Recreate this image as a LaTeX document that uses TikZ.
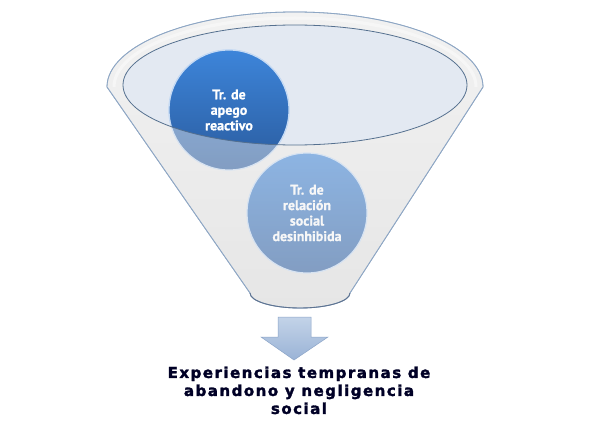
\documentclass[tikz,border=0pt]{standalone}
\usepackage{fontspec}
\newfontfamily\circfont{PT Sans}[UprightFont={* Bold}, FakeBold=0.8]
\newfontfamily\bottomfont{DejaVu Sans}[UprightFont={* Bold}, LetterSpace=10, FakeBold=2]
\definecolor{rim}{HTML}{8DA6C4}
\definecolor{rimdark}{HTML}{5F7390}
\definecolor{funnelfill}{HTML}{EEEEEE}
\definecolor{ellfill}{HTML}{E3E9F2}
\definecolor{elldraw}{HTML}{55708F}
\definecolor{blueA}{HTML}{3D85DA}
\definecolor{blueB}{HTML}{2A5B9E}
\definecolor{arrowA}{HTML}{C3D3E8}
\definecolor{arrowB}{HTML}{9AB3D6}
\definecolor{arrowdraw}{HTML}{8CA5C8}
\tikzset{
  bubble/.style={circle, minimum size=120pt, inner sep=0pt, align=center,
    text=white, font=\circfont\fontsize{14}{15.5}\selectfont,
    draw=white!70!blueA, line width=1.2pt, shading=axis,
    top color=blueA, bottom color=blueB},
  bottomtext/.style={align=center, text=black!85!blue,
    font=\bottomfont\fontsize{15}{18}\selectfont},
}
\begin{document}
\begin{tikzpicture}[x=1pt,y=-1pt]
\useasboundingbox (0,0) rectangle (589,441);
\fill[white] (0,0) rectangle (589,441);
% funnel body
\path[top color=funnelfill!60!white, bottom color=funnelfill!90!black!60!funnelfill, draw=rim, line width=0.8pt]
  (107,87) arc[start angle=180, end angle=360, x radius=188, y radius=75]
  -- (350,293) arc[start angle=0, end angle=180, x radius=50, y radius=15] -- cycle;
% inner white rim
\draw[white, line width=3pt, opacity=0.9]
  (114,87) arc[start angle=180, end angle=360, x radius=181, y radius=69];
% inner ellipse
\fill[ellfill] (295,85) ellipse[x radius=172, y radius=60];
% circles
\node[bubble] (c1) at (229,110) {Tr. de\\apego\\reactivo};
\node[bubble] (c2) at (307,213) {Tr. de\\relación\\social\\desinhibida};
% front overlay (funnel minus inner ellipse)
\fill[even odd rule, fill=funnelfill!95!white, opacity=0.45]
  (107,87) arc[start angle=180, end angle=360, x radius=188, y radius=75]
  -- (350,293) arc[start angle=0, end angle=180, x radius=50, y radius=15] -- cycle
  (295,85) ellipse[x radius=172, y radius=60];
% redraw circle 1 top part (inside ellipse) vivid
\begin{scope}
  \clip (295,85) ellipse[x radius=172, y radius=60];
  \node[bubble] at (229,110) {Tr. de\\apego\\reactivo};
\end{scope}
\draw[elldraw, line width=0.8pt] (295,85) ellipse[x radius=172, y radius=60];
% funnel outline on top
\draw[rim, line width=0.8pt]
  (107,87) arc[start angle=180, end angle=360, x radius=188, y radius=75]
  -- (350,293) arc[start angle=0, end angle=180, x radius=50, y radius=15] -- cycle;
\draw[rimdark, line width=0.9pt]
  (350,293) arc[start angle=0, end angle=180, x radius=50, y radius=15];
% arrow
\path[top color=arrowA, bottom color=arrowB, draw=arrowdraw, line width=0.5pt]
  (278,317) -- (311,317) -- (311,337) -- (328,337) -- (294,360) -- (261,337) -- (278,337) -- cycle;
% bottom text
\node[bottomtext, anchor=north] (t) at (299,363) {Experiencias tempranas de\\abandono y negligencia\\social};
\end{tikzpicture}
\end{document}
